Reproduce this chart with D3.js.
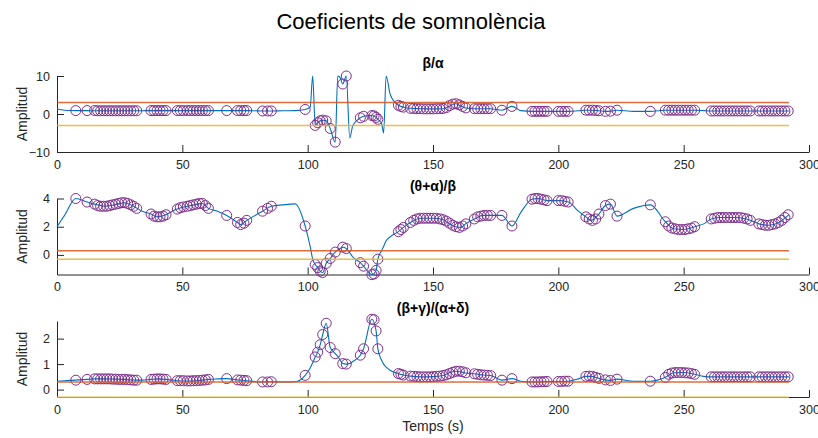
<!DOCTYPE html>
<html>
<head>
<meta charset="utf-8">
<script src="https://cdn.jsdelivr.net/npm/d3@7"></script>
<style>
  body { margin: 0; background: #fff; }
  text { font-family: "Liberation Sans", Arial, sans-serif; }
</style>
</head>
<body>
<script>
// data
var panelTitles = ['β/α', '(θ+α)/β', '(β+γ)/(α+δ)'];
var yDomains = [[-10, 10], [-1.39, 4], [-0.29, 2.69]];
var yTicks = [[-10, 0, 10], [0, 2, 4], [0, 1, 2]];
var xTicks = [0, 50, 100, 150, 200, 250, 300];
var upperThr = [3, 0.3, 0.3];
var lowerThr = [-3, -0.3, -0.3];
var tEnd = 292;

// knots of the continuous signal (same times for the three ratios)
var lineT = [0, 3, 7.5, 12, 15, 19, 23, 27, 31, 34,
  37.5, 40, 43.5, 46, 48, 52, 56, 58, 60.4, 64,
  67.7, 72, 73.3, 75.7, 79, 82, 85.5, 90, 95, 99,
  101, 102, 103, 104, 105, 106, 107.4, 109, 111, 112,
  113, 114, 115.4, 116.8, 118, 121, 122.3, 125.6, 127.3, 128,
  129.5, 130.3, 131.3, 133, 136.2, 138.2, 141, 145, 150, 154,
  157, 159, 161, 163, 166.5, 170, 173, 177.5, 181.5, 185,
  189.5, 192, 195.5, 200, 204, 208, 211, 213, 216.2, 218.8,
  220.8, 223.4, 230, 236.7, 242.7, 246, 250, 254.4, 258, 261,
  265, 270, 275, 278, 280, 284, 288, 292];

var lineBA = [1.3, 1.0, 0.9, 0.9, 0.85, 0.85, 0.85, 0.85, 0.85, 0.87,
  0.9, 0.9, 0.9, 0.9, 0.9, 0.9, 0.9, 0.9, 0.9, 0.9,
  0.9, 0.9, 0.9, 0.9, 0.85, 0.8, 0.8, 0.85, 0.9, 1.2,
  1.8, 10, -3.0, -2.3, -1.8, -1.6, -1.8, -3.8, -7.4, 10,
  9.5, 7.9, 10, -6.3, -3.0, -1.0, -0.6, -0.4, -0.9, -1.4,
  -2.5, -5.0, 10, 5.0, 2.3, 1.8, 1.5, 1.4, 1.35, 1.4,
  2.2, 2.7, 2.1, 1.6, 1.4, 1.4, 1.4, 1.0, 2.0, 0.9,
  0.7, 0.7, 0.7, 0.7, 0.7, 0.85, 1.0, 1.0, 0.85, 0.7,
  0.75, 1.0, 0.7, 0.7, 1.0, 1.0, 1.0, 1.0, 0.9, 0.8,
  0.8, 0.8, 0.8, 0.8, 0.8, 0.8, 0.8, 0.8];

var lineTAB = [2.0, 2.8, 4.0, 3.75, 3.6, 3.45, 3.55, 3.7, 3.4, 3.1,
  2.9, 2.7, 2.85, 3.1, 3.25, 3.45, 3.6, 3.65, 3.3, 3.1,
  2.8, 2.3, 2.15, 2.45, 2.8, 3.1, 3.45, 3.55, 3.62, 2.05,
  0.6, -0.3, -0.68, -0.9, -1.15, -1.25, -0.6, -0.25, 0.2, 0.35,
  0.45, 0.55, 0.45, 0.15, -0.15, -0.55, -0.8, -1.4, -1.1, -0.3,
  0.3, 0.6, 1.0, 1.3, 1.65, 1.95, 2.3, 2.6, 2.6, 2.5,
  2.15, 2.0, 1.95, 2.2, 2.55, 2.8, 2.8, 2.8, 2.05, 3.0,
  3.95, 4.0, 3.85, 3.85, 3.75, 3.1, 2.7, 2.45, 2.9, 3.5,
  3.6, 2.75, 3.3, 3.55, 2.35, 1.85, 1.8, 2.0, 2.2, 2.55,
  2.65, 2.65, 2.55, 2.35, 2.2, 2.1, 2.3, 2.85];

var lineBGAD = [0.33, 0.35, 0.37, 0.4, 0.42, 0.42, 0.41, 0.4, 0.37, 0.37,
  0.4, 0.42, 0.4, 0.37, 0.35, 0.34, 0.35, 0.37, 0.4, 0.42,
  0.43, 0.38, 0.37, 0.35, 0.31, 0.3, 0.31, 0.3, 0.31, 0.56,
  0.85, 1.05, 1.28, 1.47, 1.76, 2.16, 2.6, 1.65, 1.41, 1.3,
  1.15, 1.02, 1.0, 1.02, 1.1, 1.35, 1.6, 2.76, 2.3, 1.6,
  1.15, 1.0, 0.88, 0.75, 0.63, 0.57, 0.53, 0.5, 0.51, 0.55,
  0.68, 0.72, 0.7, 0.65, 0.62, 0.57, 0.55, 0.37, 0.43, 0.33,
  0.3, 0.3, 0.32, 0.32, 0.33, 0.42, 0.52, 0.52, 0.44, 0.38,
  0.36, 0.41, 0.33, 0.33, 0.48, 0.66, 0.67, 0.6, 0.52, 0.5,
  0.5, 0.5, 0.5, 0.5, 0.5, 0.5, 0.5, 0.5];

// times of the circled epochs
var markT = [7.5, 12,
  15, 16.2, 17.4, 18.6, 19.8, 21, 22.2, 23.4, 24.6, 25.8, 27, 28.2, 29.4, 30.6, 31.8,
  37.5, 38.7, 39.9, 41.1, 42.3, 43.5,
  48, 49.2, 50.4, 52, 53.2, 54.4, 55.6, 56.8, 58, 59.2, 60.4,
  67.7,
  72, 73.3, 74.6, 75.7,
  82, 84, 85.5,
  99,
  103, 104, 105, 106, 107.4, 109, 111, 114, 115.4,
  121, 122.3, 125.6, 126.5, 127.3, 128,
  136.2, 137.2, 138.2,
  141, 142.3, 143.6, 144.9, 146.2, 147.5, 148.8, 150.1, 151.4, 152.7, 154, 155.3, 156.6, 157.9, 159.2, 160.5, 161.8, 163.1,
  166.5, 167.8, 169.1, 170.4, 171.7, 173,
  177.5, 181.5,
  189.5, 190.7, 191.9, 193.1, 194.3, 195.5,
  200, 201.3, 202.6, 203.9,
  211, 212.3, 213.6, 214.9, 216.2, 218.8, 220.8,
  223.4, 236.7,
  242.7, 244, 245.3, 246.6, 247.9, 249.2, 250.5, 251.8, 253.1, 254.4,
  261, 262.3, 263.6, 264.9, 266.2, 267.5, 268.8, 270.1, 271.4, 272.7, 274, 275.3, 276.6,
  280, 281.3, 282.6, 283.9, 285.2, 286.5, 287.8, 289.1, 290.4, 291.7];

var markBA = [0.9, 0.9,
  0.9, 0.85, 0.85, 0.85, 0.85, 0.85, 0.85, 0.85, 0.85, 0.85, 0.85, 0.85, 0.85, 0.85, 0.85,
  0.9, 0.9, 0.9, 0.9, 0.9, 0.9,
  0.9, 0.9, 0.9, 0.9, 0.9, 0.9, 0.9, 0.9, 0.9, 0.9, 0.9,
  0.9,
  0.9, 0.9, 0.9, 0.9,
  0.8, 0.8, 0.8,
  1.2,
  -3.0, -2.3, -1.8, -1.6, -1.8, -3.8, -7.4, 7.9, 10.0,
  -1.0, -0.6, -0.4, -0.5, -0.9, -1.4,
  2.3, 2.0, 1.8,
  1.5, 1.45, 1.4, 1.4, 1.35, 1.35, 1.35, 1.35, 1.4, 1.4, 1.45, 1.7, 2.2, 2.6, 2.7, 2.4, 2.0, 1.6,
  1.4, 1.4, 1.4, 1.4, 1.4, 1.4,
  1.0, 2.0,
  0.7, 0.7, 0.7, 0.7, 0.7, 0.7,
  0.7, 0.7, 0.7, 0.7,
  1.0, 1.0, 1.0, 0.95, 0.85, 0.7, 0.75,
  1.0, 0.7,
  1.0, 1.0, 1.0, 1.0, 1.0, 1.0, 1.0, 1.0, 1.0, 1.0,
  0.8, 0.8, 0.8, 0.8, 0.8, 0.8, 0.8, 0.8, 0.8, 0.8, 0.8, 0.8, 0.8,
  0.8, 0.8, 0.8, 0.8, 0.8, 0.8, 0.8, 0.8, 0.8, 0.8];

var markTAB = [4.0, 3.75,
  3.6, 3.5, 3.45, 3.45, 3.45, 3.5, 3.55, 3.6, 3.65, 3.7, 3.7, 3.65, 3.55, 3.45, 3.3,
  2.9, 2.75, 2.7, 2.7, 2.75, 2.85,
  3.25, 3.35, 3.4, 3.45, 3.5, 3.55, 3.6, 3.65, 3.65, 3.5, 3.3,
  2.8,
  2.3, 2.15, 2.25, 2.45,
  3.1, 3.3, 3.45,
  2.05,
  -0.68, -0.9, -1.15, -1.25, -0.6, -0.25, 0.2, 0.55, 0.45,
  -0.55, -0.8, -1.4, -1.35, -1.1, -0.3,
  1.65, 1.8, 1.95,
  2.3, 2.45, 2.55, 2.6, 2.6, 2.6, 2.6, 2.6, 2.6, 2.55, 2.5, 2.4, 2.25, 2.1, 2.0, 1.95, 2.05, 2.2,
  2.55, 2.7, 2.75, 2.8, 2.8, 2.8,
  2.8, 2.05,
  3.95, 4.0, 4.0, 3.95, 3.9, 3.85,
  3.85, 3.85, 3.8, 3.75,
  2.7, 2.55, 2.45, 2.55, 2.9, 3.5, 3.6,
  2.75, 3.55,
  2.35, 2.05, 1.9, 1.85, 1.8, 1.8, 1.8, 1.85, 1.9, 2.0,
  2.55, 2.6, 2.65, 2.65, 2.65, 2.65, 2.65, 2.65, 2.65, 2.65, 2.6, 2.55, 2.45,
  2.2, 2.15, 2.1, 2.1, 2.15, 2.2, 2.3, 2.45, 2.65, 2.85];

var markBGAD = [0.37, 0.4,
  0.42, 0.42, 0.42, 0.42, 0.42, 0.42, 0.41, 0.41, 0.4, 0.4, 0.4, 0.39, 0.38, 0.37, 0.37,
  0.4, 0.41, 0.42, 0.42, 0.41, 0.4,
  0.35, 0.35, 0.35, 0.34, 0.34, 0.35, 0.35, 0.36, 0.37, 0.38, 0.4,
  0.43,
  0.38, 0.37, 0.36, 0.35,
  0.3, 0.3, 0.31,
  0.56,
  1.28, 1.47, 1.76, 2.16, 2.6, 1.65, 1.41, 1.02, 1.0,
  1.35, 1.6, 2.76, 2.74, 2.3, 1.6,
  0.63, 0.6, 0.57,
  0.53, 0.52, 0.51, 0.5, 0.5, 0.5, 0.5, 0.51, 0.52, 0.53, 0.55, 0.58, 0.63, 0.68, 0.72, 0.72, 0.7, 0.66,
  0.62, 0.6, 0.58, 0.57, 0.56, 0.55,
  0.37, 0.43,
  0.3, 0.3, 0.3, 0.31, 0.31, 0.32,
  0.32, 0.32, 0.33, 0.33,
  0.52, 0.53, 0.52, 0.48, 0.44, 0.38, 0.36,
  0.41, 0.33,
  0.48, 0.6, 0.65, 0.67, 0.67, 0.67, 0.66, 0.65, 0.63, 0.6,
  0.5, 0.5, 0.5, 0.5, 0.5, 0.5, 0.5, 0.5, 0.5, 0.5, 0.5, 0.5, 0.5,
  0.5, 0.5, 0.5, 0.5, 0.5, 0.5, 0.5, 0.5, 0.5, 0.5];

var lineVals = [lineBA, lineTAB, lineBGAD];
var markVals = [markBA, markTAB, markBGAD];

var width = 818;
var height = 438;
var left = 57, right = 809;
var panelTop = [76, 198.5, 321];
var panelH = 76;
var axisColor = '#262626';

var svg = d3.select('body')
  .append('svg')
  .attr('width', width)
  .attr('height', height);

var x = d3.scaleLinear().domain([0, 300]).range([left, right]);

svg.append('text')
  .attr('x', 411)
  .attr('y', 29)
  .attr('text-anchor', 'middle')
  .attr('font-size', 22)
  .attr('fill', '#000')
  .text('Coeficients de somnolència');

panelTitles.forEach(function(title, i) {
  var top = panelTop[i];
  var y = d3.scaleLinear().domain(yDomains[i]).range([top + panelH, top]);
  var g = svg.append('g');

  // axes, ticks pointing inward like matlab
  var xa = g.append('g')
    .attr('transform', 'translate(0,' + (top + panelH) + ')')
    .call(d3.axisBottom(x).tickValues(xTicks).tickSize(-7).tickSizeOuter(0).tickPadding(8));
  var ya = g.append('g')
    .attr('transform', 'translate(' + left + ',0)')
    .call(d3.axisLeft(y).tickValues(yTicks[i]).tickFormat(d3.format('~g'))
      .tickSize(-7).tickSizeOuter(0).tickPadding(7));
  [xa, ya].forEach(function(a) {
    a.attr('font-size', 12.5).attr('font-family', '"Liberation Sans", Arial, sans-serif')
      .attr('color', axisColor);
    a.selectAll('text').attr('fill', axisColor);
  });

  var line = d3.line()
    .x(function(d) { return x(d[0]); })
    .y(function(d) { return y(d[1]); })
    .curve(d3.curveMonotoneX);

  var pts = lineT.map(function(t, k) { return [t, lineVals[i][k]]; });
  g.append('path')
    .attr('d', line(pts))
    .attr('fill', 'none')
    .attr('stroke', '#0072BD')
    .attr('stroke-width', 1.1);

  g.selectAll('circle')
    .data(markT.map(function(t, k) { return [t, markVals[i][k]]; }))
    .enter()
    .append('circle')
    .attr('cx', function(d) { return x(d[0]); })
    .attr('cy', function(d) { return y(d[1]); })
    .attr('r', 5)
    .attr('fill', 'none')
    .attr('stroke', '#7E2F8E')
    .attr('stroke-width', 1);

  var flat = d3.line()
    .x(function(d) { return x(d[0]); })
    .y(function(d) { return y(d[1]); });
  g.append('path')
    .attr('d', flat([[0, upperThr[i]], [tEnd, upperThr[i]]]))
    .attr('stroke', '#D95319')
    .attr('stroke-opacity', 0.85)
    .attr('stroke-width', 1.5);
  g.append('path')
    .attr('d', flat([[0, lowerThr[i]], [tEnd, lowerThr[i]]]))
    .attr('stroke', '#EDB120')
    .attr('stroke-opacity', 0.85)
    .attr('stroke-width', 1.5);

  g.append('text')
    .attr('x', (left + right) / 2)
    .attr('y', top - 8)
    .attr('text-anchor', 'middle')
    .attr('font-size', 14)
    .attr('font-weight', 'bold')
    .attr('fill', '#000')
    .text(title);

  g.append('text')
    .attr('transform', 'translate(27,' + (top + panelH / 2) + ') rotate(-90)')
    .attr('text-anchor', 'middle')
    .attr('font-size', 14)
    .attr('fill', axisColor)
    .text('Amplitud');
});

svg.append('text')
  .attr('x', (left + right) / 2)
  .attr('y', 431)
  .attr('text-anchor', 'middle')
  .attr('font-size', 14)
  .attr('fill', axisColor)
  .text('Temps (s)');
</script>
</body>
</html>
